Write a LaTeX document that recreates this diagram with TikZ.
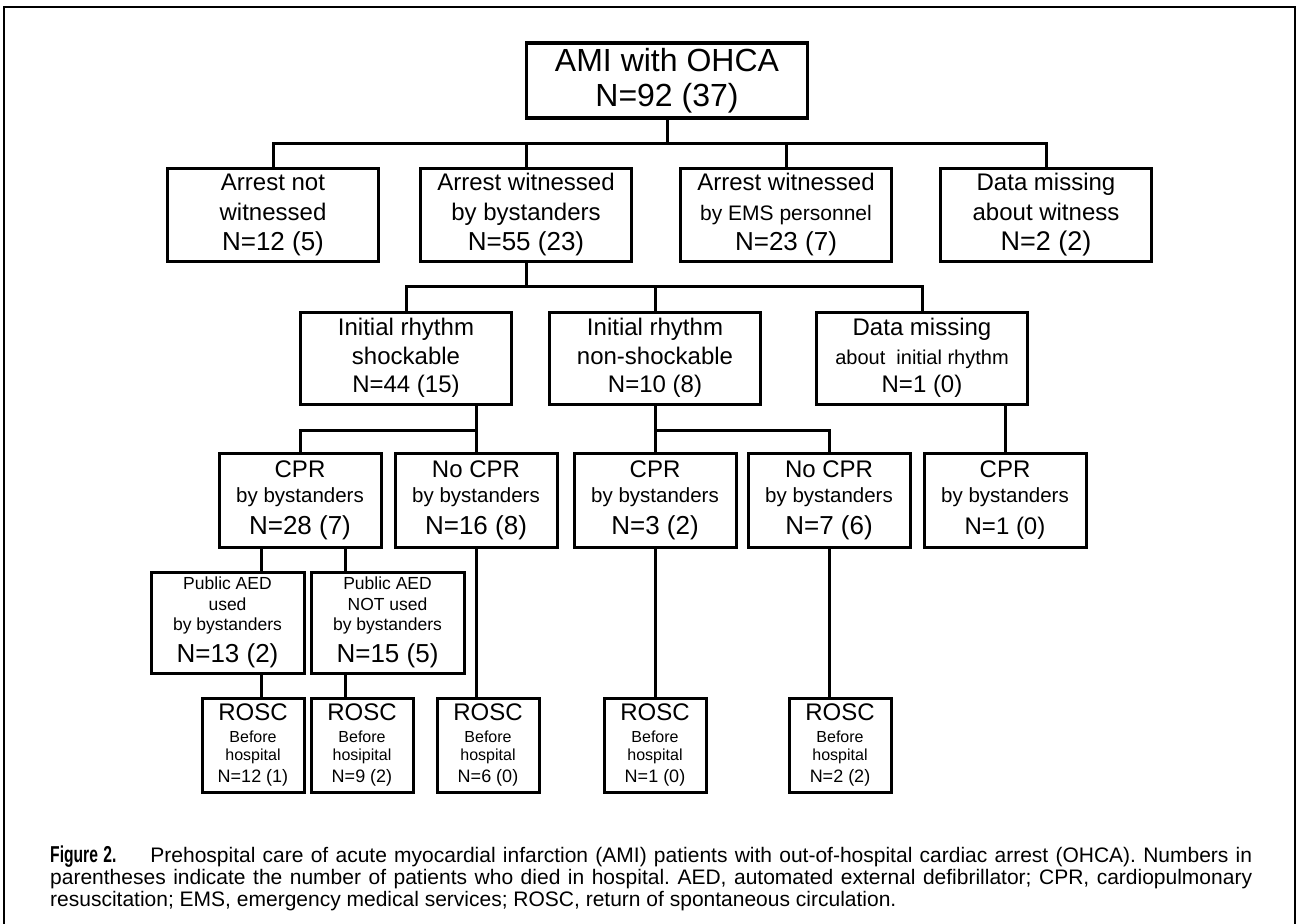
\documentclass[tikz,border=0pt]{standalone}
\usepackage{fontspec}
\setmainfont{Liberation Sans}
\newfontfamily\figlab[FakeStretch=0.68]{Liberation Sans}
\usetikzlibrary{calc}
\newcommand{\fsz}[2]{\fontsize{#1}{#2}\selectfont\lineskiplimit=-1000pt\relax}
\frenchspacing
\tikzset{
  box/.style={draw, line width=3pt, rectangle, align=center, inner sep=0pt, outer sep=0pt},
  link/.style={line width=3pt},
  rtop/.style={box, line width=3.5pt, minimum width=281pt, minimum height=75pt, font=\fsz{32}{35}},
  rtwo/.style={box, minimum width=211pt, minimum height=93pt, font=\fsz{24}{30}},
  rthree/.style={box, minimum width=211pt, minimum height=92pt, font=\fsz{24}{28.5}},
  rfour/.style={box, minimum width=162pt, minimum height=94pt, font=\fsz{20.5}{25}},
  rfive/.style={box, minimum width=153pt, minimum height=101pt, font=\fsz{17.5}{20.5}},
  rsix/.style={box, minimum width=102pt, minimum height=94pt, font=\fsz{16}{18}},
  captext/.style={anchor=base west, inner sep=0pt, font=\fsz{21}{22}\frenchspacing}
}
\begin{document}
\begin{tikzpicture}[x=1pt,y=-1pt]
\useasboundingbox (0,0) rectangle (1297,923);
\draw[line width=2.5pt] (4,940) -- (4,7) -- (1295,7) -- (1295,940);

% level 1
\node[rtop] (top) at (667,80.5) {AMI with OHCA\\N=92 (37)};

% level 2
\node[rtwo] (na) at (273,214.5) {Arrest not\\witnessed\\{\fsz{26}{30}N=12 (5)}};
\node[rtwo] (wb) at (526,214.5) {Arrest witnessed\\by bystanders\\{\fsz{26}{30}N=55 (23)}};
\node[rtwo] (we) at (786,214.5) {Arrest witnessed\\{\fsz{21}{30}by EMS personnel}\\{\fsz{26}{30}N=23 (7)}};
\node[rtwo] (dm) at (1046,214.5) {Data missing\\about witness\\{\fsz{27}{30}N=2 (2)}};

% level 3
\node[rthree] (shock) at (406,358) {Initial rhythm\\shockable\\N=44 (15)};
\node[rthree] (nonshock) at (655,358) {Initial rhythm\\non-shockable\\N=10 (8)};
\node[rthree] (dmr) at (922,358) {Data missing\\{\fsz{20}{28.5}about\ \ initial rhythm}\\N=1 (0)};

% level 4
\node[rfour] (cpr) at (300,500) {{\fsz{24}{25}CPR}\\by bystanders\\[7pt]{\fsz{26}{25}N=28 (7)}};
\node[rfour] (nocpr) at (476,500) {{\fsz{24}{25}No CPR}\\by bystanders\\[7pt]{\fsz{26}{25}N=16 (8)}};
\node[rfour] (cprb) at (655,500) {{\fsz{24}{25}CPR}\\by bystanders\\[7pt]{\fsz{26}{25}N=3 (2)}};
\node[rfour] (nocprb) at (829,500) {{\fsz{24}{25}No CPR}\\by bystanders\\[7pt]{\fsz{26}{25}N=7 (6)}};
\node[rfour] (cprc) at (1005,500) {{\fsz{24}{25}CPR}\\by bystanders\\[7pt]{\fsz{24}{25}N=1 (0)}};

% level 5
\node[rfive] (pu) at (227.5,622.5) {Public AED\\used\\by bystanders\\[11.5pt]{\fsz{26}{20.5}N=13 (2)}};
\node[rfive] (pn) at (387.5,622.5) {Public AED\\NOT used\\by bystanders\\[11.5pt]{\fsz{26}{20.5}N=15 (5)}};

% level 6
\node[rsix] (ra) at (253,745) {{\fsz{24}{18}ROSC}\\[4pt]Before\\hospital\\[4pt]{\fsz{18}{18}N=12 (1)}};
\node[rsix] (rb) at (362,745) {{\fsz{24}{18}ROSC}\\[4pt]Before\\hosipital\\[4pt]{\fsz{18}{18}N=9 (2)}};
\node[rsix] (rc) at (488,745) {{\fsz{24}{18}ROSC}\\[4pt]Before\\hospital\\[4pt]{\fsz{18}{18}N=6 (0)}};
\node[rsix] (rd) at (655,745) {{\fsz{24}{18}ROSC}\\[4pt]Before\\hospital\\[4pt]{\fsz{18}{18}N=1 (0)}};
\node[rsix] (re) at (840,745) {{\fsz{24}{18}ROSC}\\[4pt]Before\\hospital\\[4pt]{\fsz{18}{18}N=2 (2)}};

% connectors
\coordinate (h1) at (0,143);
\coordinate (h2) at (0,286);
\coordinate (h3) at (0,430);
\coordinate (d1) at (261,0);
\coordinate (d2) at (345,0);

\foreach \c in {na,wb,we,dm}
  \draw[link] (top.south) |- (h1 -| \c.north) -- (\c.north);
\foreach \c in {shock,nonshock,dmr}
  \draw[link] (wb.south) |- (h2 -| \c.north) -- (\c.north);

\draw[link] (shock.south -| nocpr.north) -- (nocpr.north);
\draw[link] (cpr.north) |- (h3 -| nocpr.north);
\draw[link] (nonshock.south) -- (cprb.north);
\draw[link] (cprb.north |- h3) -| (nocprb.north);
\draw[link] (dmr.south -| cprc.north) -- (cprc.north);

\draw[link] (cpr.south -| d1) -- (pu.north -| d1);
\draw[link] (cpr.south -| d2) -- (pn.north -| d2);
\draw[link] (pu.south -| d1) -- (ra.north -| d1);
\draw[link] (pn.south -| d2) -- (rb.north -| d2);
\draw[link] (nocpr.south) -- (nocpr.south |- rc.north);
\draw[link] (cprb.south) -- (cprb.south |- rd.north);
\draw[link] (nocprb.south) -- (nocprb.south |- re.north);

% caption
\node[captext] (capa) at (50,862) {\makebox[1202pt][s]{{\figlab\bfseries\fontsize{23}{22}\selectfont Figure 2.}\hspace*{34pt}Prehospital care of acute myocardial infarction (AMI) patients with out-of-hospital cardiac arrest (OHCA). Numbers in}};
\node[captext] (capb) at (50,884) {\makebox[1202pt][s]{parentheses indicate the number of patients who died in hospital. AED, automated external defibrillator; CPR, cardiopulmonary}};
\node[captext] (capc) at (50,906) {resuscitation; EMS, emergency medical services; ROSC, return of spontaneous circulation.};
\end{tikzpicture}
\end{document}
